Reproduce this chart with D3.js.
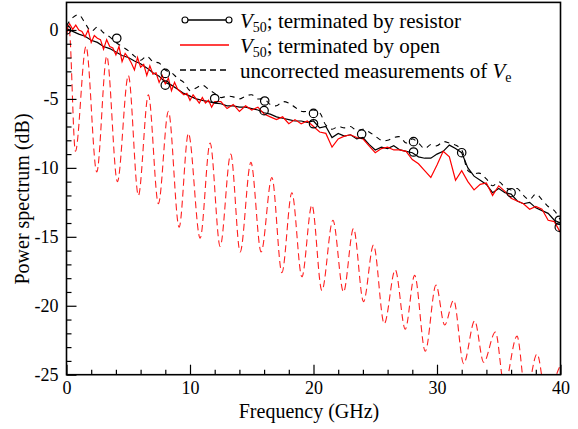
<!DOCTYPE html>
<html>
<head>
<meta charset="utf-8">
<script src="https://cdn.jsdelivr.net/npm/d3@7"></script>
<style>
  body { margin: 0; background: #fff; }
  svg { display: block; font-family: "Liberation Serif", "Times New Roman", serif; }
</style>
</head>
<body>
<svg id="chart" width="578" height="429"></svg>
<script>
// V50, terminated by resistor  [GHz, dB]
const v50Resistor = [
  [0,0.1],[0.5,-0.1],[1,-0.3],[1.5,-0.45],[2,-0.75],[2.5,-0.9],[3,-1.2],[3.5,-1.35],[4,-1.6],[4.5,-1.85],
  [5,-2.0],[5.5,-2.25],[6,-2.45],[6.5,-2.75],[7,-3.1],[7.5,-3.35],[8,-3.8],[8.5,-4.0],[9,-4.3],[9.5,-4.6],
  [10,-4.8],[10.5,-5.0],[11,-5.1],[11.5,-5.2],[12,-5.3],[12.5,-5.35],[13,-5.5],[13.5,-5.5],[14,-5.6],[14.5,-5.6],
  [15,-5.7],[15.5,-5.8],[16,-6.0],[16.5,-6.1],[17,-6.3],[17.5,-6.4],[18,-6.5],[18.5,-6.6],[19,-6.6],[19.5,-6.7],
  [20,-6.6],[20.5,-7.1],[21,-7.0],[21.5,-7.8],[22,-7.5],[22.5,-7.7],[23,-7.6],[23.5,-7.9],[24,-7.8],[24.5,-8.3],
  [25,-8.7],[25.5,-8.5],[26,-8.6],[26.5,-8.4],[27,-8.7],[27.5,-8.8],[28,-8.9],[28.5,-9.2],[29,-9.3],[29.5,-9.3],
  [30,-9.0],[30.5,-8.8],[31,-8.35],[31.5,-8.6],[32,-8.9],[32.5,-10.0],[33,-10.6],[33.5,-10.9],[34,-11.2],[34.5,-11.8],
  [35,-11.5],[35.5,-11.8],[36,-11.9],[36.5,-12.4],[37,-12.6],[37.5,-12.5],[38,-12.9],[38.5,-13.1],[39,-13.3],[39.5,-13.8],
  [40,-14.0]
];

// circle markers on the resistor curve
const resistorMarkers = [
  [0,0.0],[4.07,-0.6],[8,-3.15],[8,-4.0],[12,-4.97],[16.05,-5.15],[16,-5.85],[20,-6.05],[20,-6.8],
  [23.9,-7.55],[28.1,-8.1],[28.1,-8.85],[32,-8.9],[36,-11.8],[39.9,-13.8],[39.9,-14.3]
];

// V50, terminated by open
const v50Open = [
  [0,0.0],[0.25,0.45],[0.5,0.05],[0.75,0.35],[1,0.0],[1.25,-0.1],[1.5,-0.5],[1.75,0.0],[2,-0.9],[2.25,-0.4],
  [2.5,-0.6],[2.75,-0.7],[3,-1.4],[3.25,-0.7],[3.5,-1.2],[3.75,-1.3],[4,-1.8],[4.25,-1.2],[4.5,-2.3],[4.75,-1.7],
  [5,-2.0],[5.25,-2.4],[5.5,-2.9],[5.75,-2.0],[6,-2.7],[6.25,-2.5],[6.5,-3.3],[6.75,-2.6],[7,-3.2],[7.25,-3.1],
  [7.5,-3.8],[7.75,-3.3],[8,-3.9],[8.25,-3.5],[8.5,-4.4],[8.75,-3.8],[9,-4.3],[9.25,-4.5],[9.5,-4.7],[9.75,-4.6],
  [10,-5.1],[10.25,-4.7],[10.5,-5.0],[10.75,-5.3],[11,-4.9],[11.25,-5.3],[11.5,-5.1],[11.75,-5.6],[12,-5.2],
  [12.5,-5.2],[13,-5.7],[13.5,-5.4],[14,-5.9],[14.5,-5.5],[15,-5.8],[15.5,-5.6],[16,-6.1],[16.5,-6.3],[17,-6.5],
  [17.5,-6.3],[18,-6.8],[18.5,-6.5],[19,-6.8],[19.5,-6.6],[20,-7.0],[20.5,-7.4],[21,-7.5],[21.5,-8.5],[22,-7.9],
  [22.5,-7.7],[23,-7.6],[23.5,-7.8],[24,-7.9],[24.5,-8.4],[25,-8.9],[25.5,-8.6],[26,-8.5],[26.5,-8.7],[27,-8.7],
  [27.5,-8.8],[28,-9.4],[28.5,-9.7],[29,-10.2],[29.5,-10.7],[30,-9.8],[30.5,-8.8],[31,-9.2],[31.5,-10.9],[32,-10.2],
  [32.5,-11.0],[33,-11.6],[33.5,-11.2],[34,-11.1],[34.5,-12.0],[35,-11.3],[35.5,-11.7],[36,-12.2],[36.5,-12.4],
  [37,-12.6],[37.5,-13.0],[38,-12.8],[38.5,-13.0],[39,-13.8],[39.5,-13.9],[40,-14.7]
];

// uncorrected measurements of Ve
const veUncorrected = [
  [0,0.3],[0.5,0.9],[1,1.1],[1.5,0.5],[2,-0.1],[2.5,0.2],[3,-0.2],[3.5,-0.5],[4,-0.9],[4.5,-1.2],
  [5,-1.5],[5.5,-1.9],[6,-2.2],[6.5,-1.9],[7,-2.3],[7.5,-2.4],[8,-2.9],[8.5,-3.1],[9,-3.5],[9.5,-3.8],
  [10,-4.4],[10.5,-4.2],[11,-4.0],[11.5,-4.3],[12,-4.6],[12.5,-4.9],[13,-4.8],[13.5,-4.85],[14,-5.0],[14.5,-4.8],
  [15,-4.7],[15.5,-5.0],[16,-5.0],[16.5,-5.4],[17,-5.5],[17.5,-5.2],[18,-5.3],[18.5,-5.6],[19,-5.9],[19.5,-5.9],
  [20,-5.8],[20.5,-6.0],[21,-6.9],[21.5,-7.2],[22,-7.0],[22.5,-7.1],[23,-7.0],[23.5,-7.3],[24,-7.2],[24.5,-7.4],
  [25,-7.7],[25.5,-8.0],[26,-8.0],[26.5,-7.8],[27,-7.75],[27.5,-8.2],[28,-7.9],[28.5,-8.2],[29,-8.6],[29.5,-8.3],
  [30,-8.4],[30.5,-8.1],[31,-8.2],[31.5,-8.35],[32,-8.7],[32.5,-10.2],[33,-10.4],[33.5,-10.4],[34,-10.8],[34.5,-11.3],
  [35,-11.0],[35.5,-11.4],[36,-11.6],[36.5,-11.5],[37,-12.0],[37.5,-12.3],[38,-11.9],[38.5,-12.3],[39,-12.8],[39.5,-13.1],
  [40,-13.8]
];

// uncorrected open-terminated measurement (red dashed), peaks and notches
const openUncorrected = [
  [0,-0.4],[0.2,0.2],[0.72,-8.8],[1.58,-1.2],[2.45,-10.3],[3.26,-1.9],[4.12,-11.0],[5.01,-3.3],[5.82,-12.0],
  [6.63,-4.7],[7.44,-12.6],[8.25,-5.9],[9.12,-14.3],[9.87,-7.5],[10.82,-15.1],[11.63,-8.2],[12.44,-15.7],
  [13.3,-9.0],[14.06,-16.1],[14.93,-9.6],[15.76,-16.1],[16.63,-10.7],[17.44,-17.6],[18.25,-11.8],[19.06,-17.9],
  [19.87,-12.7],[20.68,-18.9],[21.57,-13.8],[22.43,-19.0],[23.24,-14.4],[24.05,-19.7],[24.86,-15.6],[25.73,-21.3],
  [26.62,-17.4],[27.43,-21.7],[28.19,-17.8],[29.05,-23.3],[29.92,-18.5],[30.62,-21.4],[31.35,-19.6],[32.16,-24.2],
  [33.05,-21.1],[33.78,-24.1],[34.73,-21.9],[35.45,-25.8],[36.48,-22.2],[37.2,-26.5],[38.1,-23.5],[38.9,-27.0],
  [39.8,-24.7],[40,-24.3]
];

const xMajor = [0, 10, 20, 30, 40];
const yMajor = [-25, -20, -15, -10, -5, 0];

const svg = d3.select("#chart");
const plotL = 66.5, plotR = 560.5, plotT = 2.4, plotB = 374.7;
const x = d3.scaleLinear().domain([0, 40]).range([plotL, plotR]);
const y = d3.scaleLinear().domain([-25, 2]).range([plotB, plotT]);

svg.append("clipPath").attr("id", "clip")
  .append("rect").attr("x", plotL).attr("y", plotT).attr("width", plotR - plotL).attr("height", plotB - plotT);

const line = d3.line().x(d => x(d[0])).y(d => y(d[1]));
const plot = svg.append("g").attr("clip-path", "url(#clip)");

// red dashed oscillating curve
plot.append("path").datum(openUncorrected)
  .attr("d", line.curve(d3.curveMonotoneX)).attr("fill", "none")
  .attr("stroke", "#ff2020").attr("stroke-width", 1.1).attr("stroke-dasharray", "7,4");

plot.append("path").datum(veUncorrected)
  .attr("d", line.curve(d3.curveCatmullRom)).attr("fill", "none")
  .attr("stroke", "#000").attr("stroke-width", 1.1).attr("stroke-dasharray", "5,5");

plot.append("path").datum(v50Resistor)
  .attr("d", line.curve(d3.curveLinear)).attr("fill", "none")
  .attr("stroke", "#000").attr("stroke-width", 1.2);

plot.append("path").datum(v50Open)
  .attr("d", line.curve(d3.curveLinear)).attr("fill", "none")
  .attr("stroke", "#ff0000").attr("stroke-width", 1.2);

plot.selectAll("circle.mk").data(resistorMarkers).join("circle")
  .attr("class", "mk")
  .attr("cx", d => x(d[0])).attr("cy", d => y(d[1])).attr("r", 4.2)
  .attr("fill", "none").attr("stroke", "#000").attr("stroke-width", 1.2);

// axes: ticks inside
const minorX = d3.range(0, 41, 2).filter(v => !xMajor.includes(v));
const minorY = d3.range(-25, 1, 1).filter(v => !yMajor.includes(v));

const gx = svg.append("g").attr("transform", `translate(0,${plotB})`);
gx.call(d3.axisBottom(x).tickValues(xMajor).tickSize(-10).tickPadding(7).tickFormat(d => String(d)));
gx.append("g").call(d3.axisBottom(x).tickValues(minorX).tickSize(-5).tickFormat(""));

const gy = svg.append("g").attr("transform", `translate(${plotL},0)`);
gy.call(d3.axisLeft(y).tickValues(yMajor).tickSize(-10).tickPadding(8).tickFormat(d => String(d)));
gy.append("g").call(d3.axisLeft(y).tickValues(minorY).tickSize(-5).tickFormat(""));

svg.selectAll(".domain").remove();
svg.selectAll(".tick line").attr("stroke", "#000").attr("stroke-width", 1.2);
svg.selectAll(".tick text").attr("fill", "#000")
  .style("font-family", "Liberation Serif, serif").style("font-size", "18px");

// frame
svg.append("rect").attr("x", plotL).attr("y", plotT).attr("width", plotR - plotL).attr("height", plotB - plotT)
  .attr("fill", "none").attr("stroke", "#000").attr("stroke-width", 1.6);

// axis titles
svg.append("text").attr("x", 309).attr("y", 418).attr("text-anchor", "middle")
  .style("font-size", "20px").text("Frequency (GHz)");
svg.append("text").attr("transform", "translate(29,199) rotate(-90)").attr("text-anchor", "middle")
  .style("font-size", "20px").text("Power spectrum (dB)");

// legend
const lg = svg.append("g");
const lx0 = 182, lx1 = 229, tx = 240;
lg.append("line").attr("x1", lx0 + 3).attr("x2", lx1).attr("y1", 20).attr("y2", 20)
  .attr("stroke", "#000").attr("stroke-width", 1.4);
[lx0 + 3, lx1].forEach(cx => lg.append("circle").attr("cx", cx).attr("cy", 20).attr("r", 3)
  .attr("fill", "#fff").attr("stroke", "#000").attr("stroke-width", 1.1));
lg.append("line").attr("x1", lx0 - 2).attr("x2", lx1).attr("y1", 45).attr("y2", 45)
  .attr("stroke", "#ff0000").attr("stroke-width", 1.4);
lg.append("line").attr("x1", lx0 - 2).attr("x2", lx1).attr("y1", 70).attr("y2", 70)
  .attr("stroke", "#000").attr("stroke-width", 1.4).attr("stroke-dasharray", "6,4");

function legendV(yb, rest) {
  const t = lg.append("text").attr("x", tx).attr("y", yb).style("font-size", "21px");
  t.append("tspan").style("font-style", "italic").text("V");
  t.append("tspan").style("font-size", "14px").attr("dy", 4).text("50");
  t.append("tspan").attr("dy", -4).text(rest);
}
legendV(28, "; terminated by resistor");
legendV(53, "; terminated by open");
const t3 = lg.append("text").attr("x", tx).attr("y", 78).style("font-size", "21px");
t3.append("tspan").text("uncorrected measurements of ");
t3.append("tspan").style("font-style", "italic").text("V");
t3.append("tspan").style("font-size", "14px").attr("dy", 4).text("e");
</script>
</body>
</html>
